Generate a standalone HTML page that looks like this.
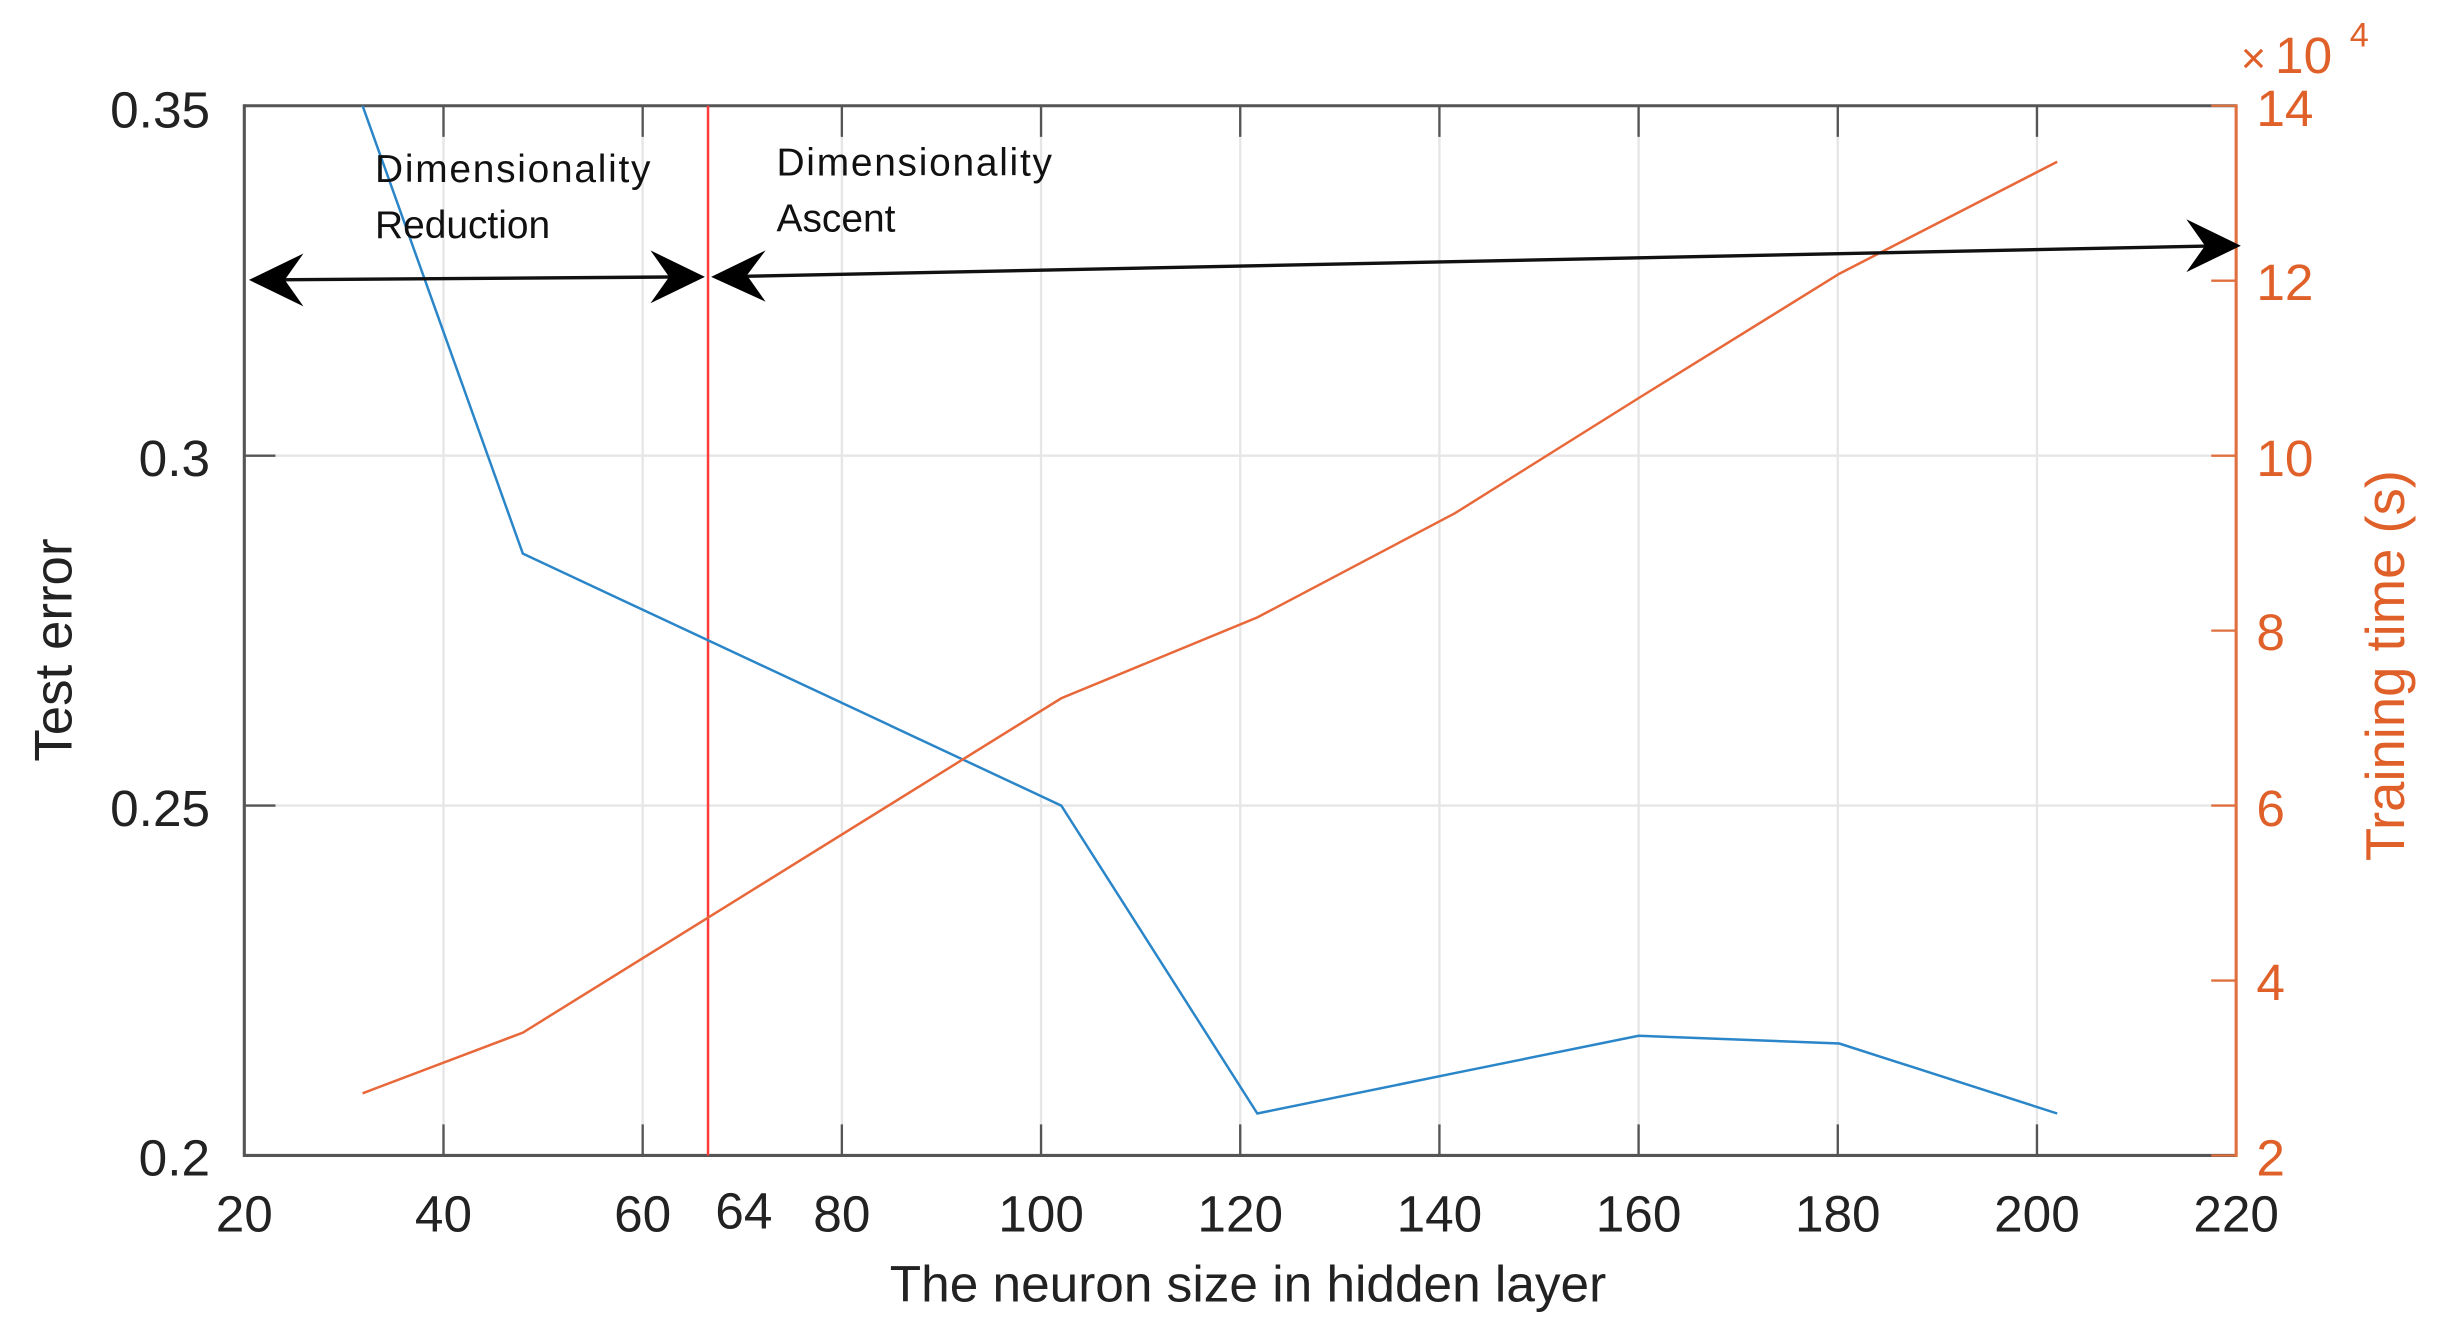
<!DOCTYPE html>
<html><head><meta charset="utf-8"><style>html,body{margin:0;padding:0;background:#fff}svg{display:block}</style></head>
<body>
<svg width="2440" height="1339" viewBox="0 0 1568 861" preserveAspectRatio="none" xmlns="http://www.w3.org/2000/svg" font-family="Liberation Sans, sans-serif">
<rect width="1568" height="861" fill="#fff"/>
<g stroke="#e6e6e6" stroke-width="1.5">
<line x1="285" y1="68" x2="285" y2="743"/><line x1="413" y1="68" x2="413" y2="743"/>
<line x1="541" y1="68" x2="541" y2="743"/><line x1="669" y1="68" x2="669" y2="743"/>
<line x1="797" y1="68" x2="797" y2="743"/><line x1="925" y1="68" x2="925" y2="743"/>
<line x1="1053" y1="68" x2="1053" y2="743"/><line x1="1181" y1="68" x2="1181" y2="743"/>
<line x1="1309" y1="68" x2="1309" y2="743"/>
<line x1="157" y1="293" x2="1437" y2="293"/><line x1="157" y1="518" x2="1437" y2="518"/>
</g>
<g stroke="#555" stroke-width="2">
<line x1="157" y1="68" x2="1437" y2="68"/><line x1="157" y1="743" x2="1437" y2="743"/>
<line x1="157" y1="67" x2="157" y2="744"/>
</g>
<g stroke="#555" stroke-width="1.5">
<path d="M285 743v-20M413 743v-20M541 743v-20M669 743v-20M797 743v-20M925 743v-20M1053 743v-20M1181 743v-20M1309 743v-20"/>
<path d="M285 68v20M413 68v20M541 68v20M669 68v20M797 68v20M925 68v20M1053 68v20M1181 68v20M1309 68v20"/>
<path d="M157 293h20M157 518h20M157 68h20M157 743h20"/>
</g>
<line x1="1437" y1="67" x2="1437" y2="744" stroke="#e0703f" stroke-width="2"/>
<g stroke="#e0703f" stroke-width="1.5"><path d="M1437 68h-16M1437 180.5h-16M1437 293h-16M1437 405.5h-16M1437 518h-16M1437 630.5h-16M1437 743h-16"/></g>
<line x1="455" y1="68" x2="455" y2="743" stroke="#ff3b3b" stroke-width="1.6"/>
<polyline fill="none" stroke="#2a86c8" stroke-width="1.6" points="233,68 336,356 682,518 808,716 935,690 1053,666 1182,671 1322,716"/>
<polyline fill="none" stroke="#e8683a" stroke-width="1.6" points="233,703 336,664 682,449 808,397 935,330 1053,256 1182,176 1322,104"/>
<g stroke="#111" stroke-width="2.2" fill="#111">
<line x1="165" y1="180" x2="448" y2="178"/>
<line x1="462" y1="178" x2="1430" y2="158"/>
</g>
<g fill="#000">
<path d="M160 180 L195 163 L183 180 L195 197 Z"/>
<path d="M453 178 L418 161 L430 178 L418 195 Z"/>
<path d="M457 178 L492 161 L480 177 L492 194 Z"/>
<path d="M1440 158 L1405 141 L1417 158 L1405 175 Z"/>
</g>
<g font-size="25" fill="#111">
<text x="241" y="117" textLength="177">Dimensionality</text><text x="241" y="153">Reduction</text>
<text x="499" y="113" textLength="177">Dimensionality</text><text x="499" y="149">Ascent</text>
</g>
<g font-size="33" fill="#222" text-anchor="end">
<text x="135" y="82">0.35</text><text x="135" y="306">0.3</text>
<text x="135" y="531">0.25</text><text x="135" y="756">0.2</text>
</g>
<g font-size="33" fill="#222" text-anchor="middle">
<text x="157" y="792">20</text><text x="285" y="792">40</text><text x="413" y="792">60</text>
<text x="478" y="790">64</text><text x="541" y="792">80</text><text x="669" y="792">100</text>
<text x="797" y="792">120</text><text x="925" y="792">140</text><text x="1053" y="792">160</text>
<text x="1181" y="792">180</text><text x="1309" y="792">200</text><text x="1437" y="792">220</text>
</g>
<g font-size="33" fill="#e0602a">
<text x="1450" y="81">14</text><text x="1450" y="193">12</text><text x="1450" y="306">10</text>
<text x="1450" y="418">8</text><text x="1450" y="531">6</text><text x="1450" y="643">4</text>
<text x="1450" y="756">2</text>
<text x="1440" y="47" font-size="28">×</text><text x="1462" y="47" font-size="33">10</text><text x="1510" y="30" font-size="22">4</text>
</g>
<text x="802" y="837" font-size="33" fill="#222" text-anchor="middle">The neuron size in hidden layer</text>
<text transform="translate(46,418) rotate(-90)" font-size="34" fill="#222" text-anchor="middle">Test error</text>
<text transform="translate(1545,428) rotate(-90)" font-size="35" fill="#e0602a" text-anchor="middle">Training time (s)</text>
</svg>
</body></html>
